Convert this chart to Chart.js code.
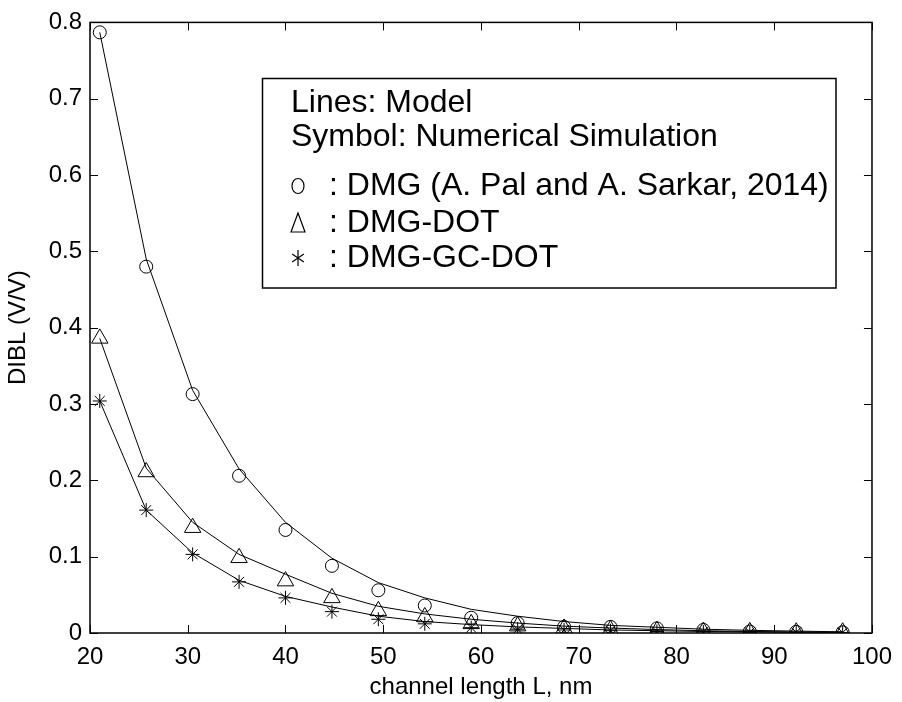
<!DOCTYPE html>
<html>
<head>
<meta charset="utf-8">
<title>DIBL vs channel length</title>
<script src="https://cdn.jsdelivr.net/npm/chart.js@4.4.0/dist/chart.umd.min.js"></script>
<style>
  html, body { margin: 0; padding: 0; background: #fff; overflow: hidden; }
  #wrap { width: 902px; height: 702px; }
</style>
</head>
<body>
<div id="wrap"><canvas id="dibl-chart" width="902" height="702"></canvas></div>
<script>
// channel length (nm)
const lengths = [21, 25.75, 30.5, 35.25, 40, 44.75, 49.5, 54.25, 59, 63.75, 68.5, 73.25, 78, 82.75, 87.5, 92.25, 97];

// model curves (lines)
const dmgModel = [0.787, 0.490, 0.318, 0.215, 0.145, 0.098, 0.066, 0.046, 0.031, 0.022, 0.015, 0.010, 0.0075, 0.005, 0.0035, 0.0025, 0.0015];
const dotModel = [0.386, 0.216, 0.145, 0.103, 0.077, 0.052, 0.035, 0.025, 0.018, 0.013, 0.009, 0.0065, 0.0045, 0.003, 0.002, 0.0013, 0.001];
const gcDotModel = [0.304, 0.161, 0.105, 0.069, 0.048, 0.034, 0.022, 0.015, 0.011, 0.008, 0.006, 0.004, 0.003, 0.002, 0.0015, 0.001, 0.0008];

// numerical simulation (symbols)
const dmgSim = [0.787, 0.480, 0.313, 0.206, 0.135, 0.088, 0.056, 0.036, 0.020, 0.013, 0.008, 0.008, 0.006, 0.004, 0.002, 0.0015, 0.001];
const dotSim = [0.386, 0.211, 0.138, 0.0985, 0.068, 0.046, 0.029, 0.021, 0.012, 0.009, 0.006, 0.004, 0.003, 0.002, 0.0015, 0.001, 0.001];
const gcDotSim = [0.304, 0.161, 0.103, 0.067, 0.046, 0.028, 0.018, 0.012, 0.007, 0.005, 0.004, 0.003, 0.002, 0.0015, 0.001, 0.001, 0.0005];

const xTicks = [20, 30, 40, 50, 60, 70, 80, 90, 100];
const yTicks = [0, 0.1, 0.2, 0.3, 0.4, 0.5, 0.6, 0.7, 0.8];

const legendLines = ["Lines: Model", "Symbol: Numerical Simulation"];
const legendSeries = [": DMG (A. Pal and A. Sarkar, 2014)", ": DMG-DOT", ": DMG-GC-DOT"];

const FONT = "'Liberation Sans', Arial, Helvetica, sans-serif";
const TICK_LEN = 8;

function toPoints(ys) {
  return lengths.map((x, i) => ({ x: x, y: ys[i] }));
}

function modelSet(ys) {
  return {
    data: toPoints(ys),
    borderColor: "#000",
    borderWidth: 1,
    pointRadius: 0,
    tension: 0,
    fill: false,
  };
}

function symbolSet(ys, style, radius) {
  return {
    data: toPoints(ys),
    showLine: false,
    pointStyle: style,
    pointRadius: radius,
    pointBorderColor: "#000",
    pointBorderWidth: 1,
    pointBackgroundColor: "rgba(0,0,0,0)",
  };
}

// box around the plot area, inward ticks on all four sides, and the text legend
const framePlugin = {
  id: "frame",
  afterDraw(chart) {
    const ctx = chart.ctx;
    const a = chart.chartArea;
    const sx = chart.scales.x;
    const sy = chart.scales.y;

    ctx.save();
    ctx.strokeStyle = "#000";
    ctx.lineWidth = 1.5;
    ctx.strokeRect(a.left, a.top, a.right - a.left, a.bottom - a.top);

    ctx.lineWidth = 1;
    ctx.beginPath();
    xTicks.forEach((v) => {
      const px = Math.round(sx.getPixelForValue(v)) + 0.5;
      ctx.moveTo(px, a.bottom);
      ctx.lineTo(px, a.bottom - TICK_LEN);
      ctx.moveTo(px, a.top);
      ctx.lineTo(px, a.top + TICK_LEN);
    });
    yTicks.forEach((v) => {
      const py = Math.round(sy.getPixelForValue(v)) + 0.5;
      ctx.moveTo(a.left, py);
      ctx.lineTo(a.left + TICK_LEN, py);
      ctx.moveTo(a.right, py);
      ctx.lineTo(a.right - TICK_LEN, py);
    });
    ctx.stroke();

    // legend box
    const box = { left: 262.5, top: 78.5, right: 836, bottom: 288 };
    ctx.fillStyle = "#fff";
    ctx.fillRect(box.left, box.top, box.right - box.left, box.bottom - box.top);
    ctx.lineWidth = 1.5;
    ctx.strokeRect(box.left, box.top, box.right - box.left, box.bottom - box.top);

    ctx.fillStyle = "#000";
    ctx.font = "32px " + FONT;
    ctx.textBaseline = "middle";
    ctx.textAlign = "left";
    const headRows = [103, 137];
    legendLines.forEach((t, i) => ctx.fillText(t, 291, headRows[i]));

    const rows = [186, 223, 258];
    legendSeries.forEach((t, i) => ctx.fillText(t, 329, rows[i]));

    // legend symbols
    const cx = 298;
    ctx.lineWidth = 1.2;
    ctx.beginPath();
    ctx.ellipse(cx, rows[0], 6, 7.5, 0, 0, Math.PI * 2);
    ctx.stroke();

    ctx.beginPath();
    ctx.moveTo(cx, rows[1] - 10);
    ctx.lineTo(cx + 7, rows[1] + 9);
    ctx.lineTo(cx - 7, rows[1] + 9);
    ctx.closePath();
    ctx.stroke();

    ctx.beginPath();
    const r = 8;
    for (let k = 0; k < 3; k++) {
      const ang = Math.PI / 2 + (k * Math.PI) / 3;
      ctx.moveTo(cx + Math.cos(ang) * r * 0.85, rows[2] - Math.sin(ang) * r);
      ctx.lineTo(cx - Math.cos(ang) * r * 0.85, rows[2] + Math.sin(ang) * r);
    }
    ctx.stroke();
    ctx.restore();
  },
};

const ctx = document.getElementById("dibl-chart").getContext("2d");

new Chart(ctx, {
  type: "line",
  data: {
    datasets: [
      modelSet(dmgModel),
      modelSet(dotModel),
      modelSet(gcDotModel),
      symbolSet(dmgSim, "circle", 6.5),
      symbolSet(dotSim, "triangle", 9.5),
      symbolSet(gcDotSim, "star", 7),
    ],
  },
  options: {
    responsive: false,
    animation: false,
    events: [],
    layout: {
      padding: { top: 18, right: 22, left: 0, bottom: 0 },
    },
    plugins: {
      legend: { display: false },
      tooltip: { enabled: false },
    },
    scales: {
      x: {
        type: "linear",
        min: 20,
        max: 100,
        grid: { display: false, drawTicks: false },
        border: { display: false },
        afterFit(scale) {
          scale.height = 69;
        },
        afterBuildTicks(scale) {
          scale.ticks = xTicks.map((v) => ({ value: v }));
        },
        ticks: {
          color: "#000",
          padding: 10,
          maxRotation: 0,
          font: { family: FONT, size: 24 },
          callback: (v) => String(v),
        },
        title: {
          display: true,
          text: "channel length L, nm",
          color: "#000",
          padding: { top: 0, bottom: 0 },
          font: { family: FONT, size: 24 },
        },
      },
      y: {
        type: "linear",
        min: 0,
        max: 0.8,
        grid: { display: false, drawTicks: false },
        border: { display: false },
        afterFit(scale) {
          scale.width = 90;
        },
        afterBuildTicks(scale) {
          scale.ticks = yTicks.map((v) => ({ value: v }));
        },
        ticks: {
          color: "#000",
          padding: 8,
          font: { family: FONT, size: 24 },
          callback: (v) => (v === 0 ? "0" : v.toFixed(1)),
        },
        title: {
          display: true,
          text: "DIBL (V/V)",
          color: "#000",
          padding: { top: 4, bottom: 0 },
          font: { family: FONT, size: 24 },
        },
      },
    },
  },
  plugins: [framePlugin],
});
</script>
</body>
</html>
